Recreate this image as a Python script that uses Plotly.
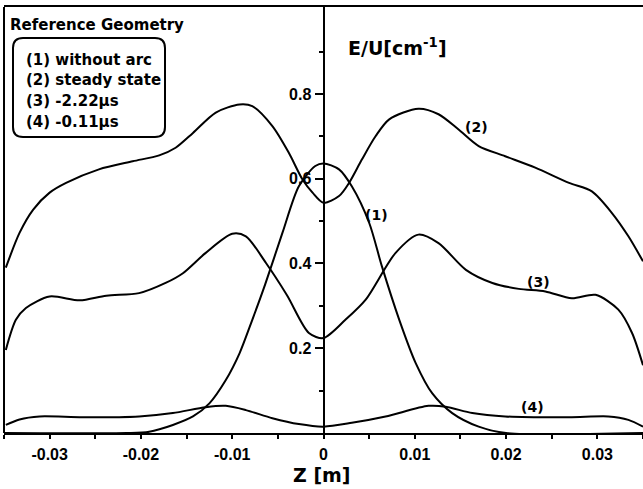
import plotly.graph_objects as go

# ---- data ----
z1 = [-0.0350, -0.0216, -0.0191, -0.0165, -0.0143, -0.0125, -0.0107, -0.0092, -0.0078, -0.0064,
      -0.0045, -0.0027, -0.0009, 0.0, 0.0017, 0.0031, 0.0050, 0.0064, 0.0083, 0.0101,
      0.0119, 0.0141, 0.0170, 0.0200, 0.0350]
v1 = [0.0, 0.0, 0.003, 0.019, 0.039, 0.070, 0.125, 0.188, 0.267, 0.350,
      0.472, 0.582, 0.630, 0.636, 0.622, 0.582, 0.496, 0.393, 0.267, 0.165,
      0.094, 0.047, 0.015, 0.0, 0.0]

z2 = [-0.0348, -0.0333, -0.0318, -0.0300, -0.0282, -0.0246, -0.0209, -0.0180, -0.0162, -0.0143,
      -0.0118, -0.0092, -0.0078, -0.0056, -0.0038, -0.0023, -0.0012, 0.0, 0.0017, 0.0028,
      0.0042, 0.0057, 0.0072, 0.0104, 0.0126, 0.0148, 0.0170, 0.0199, 0.0232, 0.0269,
      0.0294, 0.0316, 0.0334, 0.0350]
v2 = [0.390, 0.472, 0.527, 0.567, 0.590, 0.622, 0.641, 0.655, 0.673, 0.708,
      0.756, 0.775, 0.771, 0.724, 0.661, 0.598, 0.567, 0.543, 0.559, 0.590,
      0.645, 0.700, 0.740, 0.765, 0.752, 0.716, 0.677, 0.653, 0.626, 0.590,
      0.570, 0.519, 0.464, 0.405]

z3 = [-0.0348, -0.0337, -0.0326, -0.0300, -0.0267, -0.0238, -0.0202, -0.0173, -0.0154, -0.0129,
      -0.0100, -0.0085, -0.0063, -0.0040, -0.0016, 0.0, 0.0024, 0.0046, 0.0079, 0.0104,
      0.0126, 0.0156, 0.0185, 0.0214, 0.0243, 0.0272, 0.0298, 0.0323, 0.0338, 0.0350]
v3 = [0.196, 0.267, 0.295, 0.322, 0.313, 0.324, 0.330, 0.354, 0.377, 0.425,
      0.470, 0.464, 0.401, 0.325, 0.236, 0.224, 0.267, 0.314, 0.425, 0.468,
      0.448, 0.385, 0.354, 0.340, 0.334, 0.318, 0.326, 0.291, 0.236, 0.160]

z4 = [-0.0348, -0.0333, -0.0311, -0.0264, -0.0202, -0.0165, -0.0129, -0.0107, -0.0085, -0.0056,
      -0.0027, 0.0, 0.0031, 0.0068, 0.0115, 0.0134, 0.0163, 0.0199, 0.0269, 0.0312,
      0.0334, 0.0350]
v4 = [0.019, 0.032, 0.039, 0.037, 0.039, 0.047, 0.061, 0.064, 0.054, 0.035,
      0.021, 0.015, 0.024, 0.039, 0.064, 0.062, 0.047, 0.039, 0.037, 0.039,
      0.031, 0.015]

x_tickvals = [-0.03, -0.02, -0.01, 0.0, 0.01, 0.02, 0.03]
x_ticktext = ["-0.03", "-0.02", "-0.01", "0", "0.01", "0.02", "0.03"]
y_tickvals = [0.2, 0.4, 0.6, 0.8]
y_ticktext = ["0.2", "0.4", "0.6", "0.8"]

curve_labels = ["(1)", "(2)", "(3)", "(4)"]
curve_label_z = [0.0058, 0.0168, 0.0235, 0.0229]
curve_label_v = [0.514, 0.7226, 0.357, 0.062]

legend_lines = ["(1) without arc", "(2) steady state", "(3) -2.22μs", "(4) -0.11μs"]

TICKFONT = "Liberation Sans, Arial, sans-serif"
TEXTFONT = "DejaVu Sans, Liberation Sans, sans-serif"

fig = go.Figure()
for zz, vv in [(z1, v1), (z2, v2), (z3, v3), (z4, v4)]:
    fig.add_trace(go.Scatter(x=zz, y=vv, mode="lines",
                             line=dict(color="black", width=2, shape="spline", smoothing=0.8),
                             showlegend=False, hoverinfo="skip"))

W, H = 643, 489
ML, MR, MT, MB = 4, 0, 7, 56
PW = W - ML - MR
PH = H - MT - MB


def px_to_paper(px, py):
    return (px - ML) / PW, (H - MB - py) / PH


fig.update_layout(
    width=W, height=H,
    margin=dict(l=ML, r=MR, t=MT, b=MB),
    paper_bgcolor="white", plot_bgcolor="white",
    font=dict(family=TICKFONT, color="black"),
    xaxis=dict(range=[-0.035, 0.035], tickmode="array", tickvals=x_tickvals, ticktext=x_ticktext,
               ticks="outside", ticklen=4, tickwidth=1.5, tickcolor="black",
               ticklabelstandoff=2,
               showline=True, linewidth=2, linecolor="black", mirror=True,
               showgrid=False, zeroline=False,
               tickfont=dict(family=TICKFONT, size=16, weight="bold", color="black"),
               minor=dict(dtick=0.005, tick0=0, ticks="outside", ticklen=4, tickwidth=1.5,
                          tickcolor="black", showgrid=False)),
    yaxis=dict(range=[0, 1.005], anchor="free", position=0.5,
               tickmode="array", tickvals=y_tickvals, ticktext=y_ticktext,
               ticks="outside", ticklen=8, tickwidth=1.5, tickcolor="black",
               showline=True, linewidth=2, linecolor="black",
               showgrid=False, zeroline=False,
               tickfont=dict(family=TICKFONT, size=16, weight="bold", color="black"),
               minor=dict(tickvals=[0.1, 0.3, 0.5, 0.7, 0.9], ticks="outside", ticklen=4,
                          tickwidth=1.5, tickcolor="black", showgrid=False)),
)

# left frame line
fig.add_shape(type="line", xref="paper", yref="paper", x0=0, x1=0, y0=0, y1=1,
              line=dict(color="black", width=2))

# rounded legend box
bx0, by0 = px_to_paper(13, 137)
bx1, by1 = px_to_paper(165, 38)
rx, ry = 10 / PW, 10 / PH
path = (f"M {bx0+rx},{by1} L {bx1-rx},{by1} Q {bx1},{by1} {bx1},{by1-ry} "
        f"L {bx1},{by0+ry} Q {bx1},{by0} {bx1-rx},{by0} "
        f"L {bx0+rx},{by0} Q {bx0},{by0} {bx0},{by0+ry} "
        f"L {bx0},{by1-ry} Q {bx0},{by1} {bx0+rx},{by1} Z")
fig.add_shape(type="path", xref="paper", yref="paper", path=path,
              line=dict(color="black", width=2))

# reference geometry title
tx, ty = px_to_paper(8, 25)
fig.add_annotation(xref="paper", yref="paper", x=tx, y=ty, text="Reference Geometry",
                   showarrow=False, xanchor="left", yanchor="middle",
                   font=dict(family=TEXTFONT, size=15, weight="bold", color="black"))

for i, txt in enumerate(legend_lines):
    lx, ly = px_to_paper(24, [60, 80, 101, 122][i])
    fig.add_annotation(xref="paper", yref="paper", x=lx, y=ly, text=txt,
                       showarrow=False, xanchor="left", yanchor="middle",
                       font=dict(family=TEXTFONT, size=15, weight="bold", color="black"))

# curve labels
for txt, zx, vy in zip(curve_labels, curve_label_z, curve_label_v):
    fig.add_annotation(x=zx, y=vy, text=txt, showarrow=False, xanchor="center", yanchor="middle",
                       font=dict(family=TEXTFONT, size=14, weight="bold", color="black"))

# y-axis title
yx, yy = px_to_paper(397, 47)
fig.add_annotation(xref="paper", yref="paper", x=yx, y=yy, text="E/U[cm<sup>-1</sup>]",
                   showarrow=False, xanchor="center", yanchor="middle",
                   font=dict(family=TEXTFONT, size=19, weight="bold", color="black"))

# x-axis title
xx, xy = px_to_paper(322, 475)
fig.add_annotation(xref="paper", yref="paper", x=xx, y=xy, text="Z [m]",
                   showarrow=False, xanchor="center", yanchor="middle",
                   font=dict(family=TEXTFONT, size=19, weight="bold", color="black"))

fig.write_html("out.html")
